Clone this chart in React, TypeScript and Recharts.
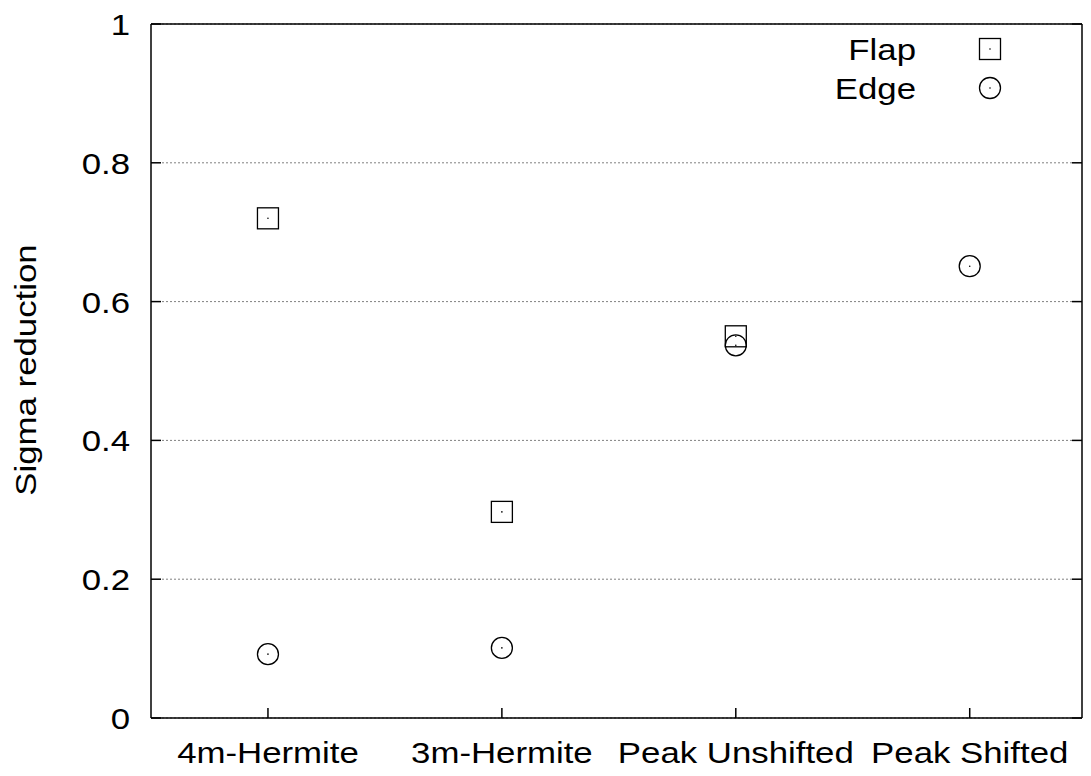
import React from 'react';
import { ScatterChart, Scatter, XAxis, YAxis, CartesianGrid, Legend } from 'recharts';

// Method names along the x axis, one slot per method
const categories = ['4m-Hermite', '3m-Hermite', 'Peak Unshifted', 'Peak Shifted'];
// Sigma reduction per method (Flap has no value for Peak Shifted)
const flapValues: (number | null)[] = [0.72, 0.297, 0.55, null];
const edgeValues: (number | null)[] = [0.092, 0.101, 0.537, 0.651];
const seriesOrder = ['Flap', 'Edge'];
const xTicks = [1, 2, 3, 4];
const yTicks = [0, 0.2, 0.4, 0.6, 0.8, 1];

const FONT = '"Liberation Sans", Arial, Helvetica, sans-serif';
const FONT_SIZE = 30;
const STRETCH = 1.16;
const TICK_LEN = 10;

const toPoints = (values: (number | null)[]) =>
  categories
    .map((name, i) => ({ x: i + 1, y: values[i], name }))
    .filter((d) => d.y !== null);

const flapData = toPoints(flapValues);
const edgeData = toPoints(edgeValues);

const Txt = ({ x, y, anchor, rotate = 0, children }: any) => (
  <text
    transform={`translate(${x},${y}) rotate(${rotate}) scale(${STRETCH},1)`}
    textAnchor={anchor}
    fontFamily={FONT}
    fontSize={FONT_SIZE}
    fill="#000"
  >
    {children}
  </text>
);

const SquareMark = ({ cx, cy }: any) => (
  <g>
    <rect x={cx - 10.5} y={cy - 10.5} width={21} height={21} fill="none" stroke="#000" strokeWidth={1.3} />
    <circle cx={cx} cy={cy} r={0.8} fill="#000" />
  </g>
);

const CircleMark = ({ cx, cy }: any) => (
  <g>
    <circle cx={cx} cy={cy} r={10.5} fill="none" stroke="#000" strokeWidth={1.3} />
    <circle cx={cx} cy={cy} r={0.8} fill="#000" />
  </g>
);

const BottomTick = ({ x, y, payload }: any) => (
  <g>
    <line x1={x} y1={y} x2={x} y2={y - TICK_LEN} stroke="#000" strokeWidth={1.5} />
    <Txt x={x} y={y + 45} anchor="middle">{categories[payload.value - 1]}</Txt>
  </g>
);

const TopTick = ({ x, y }: any) => (
  <line x1={x} y1={y} x2={x} y2={y + TICK_LEN} stroke="#000" strokeWidth={1.5} />
);

const LeftTick = ({ x, y, payload }: any) => (
  <g>
    <line x1={x} y1={y} x2={x + TICK_LEN} y2={y} stroke="#000" strokeWidth={1.5} />
    <Txt x={x - 21} y={y + 11} anchor="end">{String(payload.value)}</Txt>
  </g>
);

const RightTick = ({ x, y }: any) => (
  <line x1={x} y1={y} x2={x - TICK_LEN} y2={y} stroke="#000" strokeWidth={1.5} />
);

const LegendContent = ({ payload }: any) => {
  const entries = [...(payload || [])].sort(
    (a: any, b: any) => seriesOrder.indexOf(a.value) - seriesOrder.indexOf(b.value)
  );
  return (
    <svg width={1091} height={120}>
      {entries.map((entry: any, i: number) => {
        const cy = 49 + i * 39;
        return (
          <g key={entry.value}>
            <Txt x={916} y={cy + 11} anchor="end">{entry.value}</Txt>
            {entry.value === 'Flap' ? <SquareMark cx={990} cy={cy} /> : <CircleMark cx={990} cy={cy} />}
          </g>
        );
      })}
    </svg>
  );
};

const axisLine = { stroke: '#000', strokeWidth: 1.5 };

export default function App() {
  return (
    <div style={{ position: 'absolute', left: 0, top: 0, background: '#fff' }}>
      <ScatterChart width={1091} height={776} margin={{ top: 0, right: 0, bottom: 0, left: 0 }}>
        {/* dotted grid stops short of the inward tick marks */}
        <CartesianGrid
          vertical={false}
          x={162}
          width={910}
          stroke="#808080"
          strokeDasharray="2 2"
        />
        <XAxis
          dataKey="x"
          type="number"
          domain={[0.5, 4.48]}
          ticks={xTicks}
          interval={0}
          allowDataOverflow
          height={58}
          tickSize={0}
          tickMargin={0}
          tickLine={false}
          axisLine={axisLine}
          tick={BottomTick}
        />
        <XAxis
          xAxisId="top"
          orientation="top"
          type="number"
          domain={[0.5, 4.48]}
          ticks={xTicks}
          interval={0}
          allowDataOverflow
          height={24}
          tickSize={0}
          tickMargin={0}
          tickLine={false}
          axisLine={axisLine}
          tick={TopTick}
        />
        <YAxis
          dataKey="y"
          type="number"
          domain={[0, 1]}
          ticks={yTicks}
          interval={0}
          allowDataOverflow
          width={151}
          tickSize={0}
          tickMargin={0}
          tickLine={false}
          axisLine={axisLine}
          tick={LeftTick}
          label={{
            content: () => (
              <Txt x={36} y={370} anchor="middle" rotate={-90}>Sigma reduction</Txt>
            ),
          }}
        />
        <YAxis
          yAxisId="right"
          orientation="right"
          type="number"
          domain={[0, 1]}
          ticks={yTicks}
          interval={0}
          allowDataOverflow
          width={9}
          tickSize={0}
          tickMargin={0}
          tickLine={false}
          axisLine={axisLine}
          tick={RightTick}
        />
        <Legend
          layout="vertical"
          align="center"
          verticalAlign="middle"
          wrapperStyle={{ left: 0, top: 0, width: 1091, height: 120 }}
          content={LegendContent}
        />
        <Scatter name="Flap" data={flapData} shape={SquareMark} isAnimationActive={false} />
        <Scatter name="Edge" data={edgeData} shape={CircleMark} isAnimationActive={false} />
      </ScatterChart>
    </div>
  );
}
